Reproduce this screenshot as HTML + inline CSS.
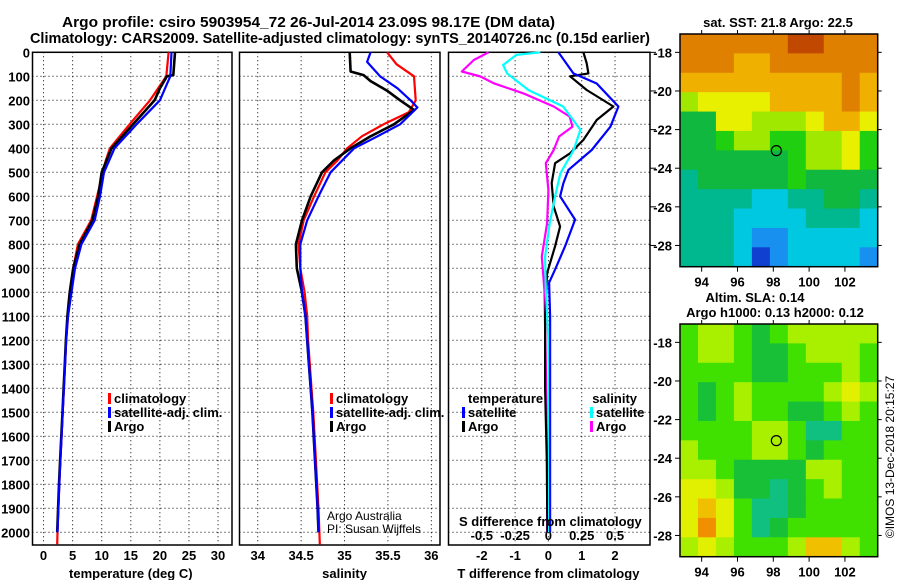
<!DOCTYPE html>
<html><head><meta charset="utf-8">
<style>
html,body{margin:0;padding:0;background:#fff;}
svg{display:block;font-family:"Liberation Sans",Arial,sans-serif;}
.b{font-weight:bold;font-size:13px;}
.t{font-weight:bold;font-size:15px;}
</style></head>
<body>
<svg id="chart" width="900" height="580" viewBox="0 0 900 580" xmlns="http://www.w3.org/2000/svg">
<text class="t" x="62" y="27" textLength="493" lengthAdjust="spacingAndGlyphs">Argo profile: csiro 5903954_72 26-Jul-2014 23.09S 98.17E (DM data)</text>
<text class="t" x="30" y="43" textLength="620" lengthAdjust="spacingAndGlyphs">Climatology: CARS2009. Satellite-adjusted climatology: synTS_20140726.nc (0.15d earlier)</text>
<g id="g"></g>
</svg>
<script>
// depth axis
const depthTicks=[0,100,200,300,400,500,600,700,800,900,1000,1100,1200,1300,1400,1500,1600,1700,1800,1900,2000];
// temperature panel
const tempTicks=[0,5,10,15,20,25,30];
const tClimD=[0,100,200,300,400,450,500,600,700,800,900,1000,1100,1200,1300,1400,1500,1600,1700,1800,1900,2000,2050];
const tClimV=[21.5,21.1,18.3,14.8,11.4,10.7,10.2,9.2,8.2,5.9,5.1,4.6,4.2,3.9,3.7,3.5,3.3,3.1,2.9,2.7,2.55,2.4,2.35];
const tSatD=[0,100,200,300,400,500,600,700,800,900,1000,1100,1200,1300,1400,1500,1600,1700,1800,1900,2000];
const tSatV=[22,21.8,20,16,12.2,10.4,9.7,8.8,6.5,5.4,4.8,4.2,3.9,3.7,3.5,3.3,3.1,2.9,2.7,2.55,2.4];
const tArgoD=[0,95,100,150,200,300,400,500,600,700,800,900,1000,1100,1200,1300,1400,1500,1600,1700,1800,1900,2000];
const tArgoV=[22.6,22.3,21.2,20,19.1,15.4,11.7,10,9.4,8.4,6.2,5.1,4.5,4.1,3.85,3.65,3.45,3.25,3.05,2.85,2.65,2.5,2.35];
// salinity panel
const salTicks=[34,34.5,35,35.5,36];
const salTickLabels=["34","34.5","35","35.5","36"];
const sClimD=[0,50,100,200,250,300,350,400,450,500,600,700,800,900,1000,1100,1200,1300,1400,1500,1600,1700,1800,1900,2000,2050];
const sClimV=[35.49,35.6,35.8,35.82,35.74,35.45,35.2,35.03,34.92,34.78,34.65,34.53,34.47,34.49,34.54,34.57,34.58,34.6,34.62,34.64,34.655,34.67,34.685,34.7,34.71,34.715];
const sSatD=[0,40,100,150,200,230,300,350,400,500,600,700,800,900,1000,1100,1200,1300,1400,1500,1600,1700,1800,1900,2000];
const sSatV=[35.3,35.26,35.41,35.61,35.76,35.84,35.64,35.38,35.11,34.84,34.7,34.57,34.49,34.49,34.51,34.55,34.57,34.59,34.61,34.63,34.645,34.66,34.675,34.69,34.7];
const sArgoD=[0,80,95,120,160,200,240,300,350,400,450,500,600,700,800,900,1000,1100,1200,1300,1400,1500,1600,1700,1800,1900,2000];
const sArgoV=[35.06,35.07,35.22,35.3,35.49,35.64,35.8,35.57,35.3,35.07,34.88,34.74,34.61,34.51,34.44,34.45,34.51,34.55,34.57,34.59,34.61,34.63,34.645,34.66,34.675,34.69,34.7];
// difference panel
const tdTicks=[-2,-1,0,1,2];
const sdTicks=[-0.5,-0.25,0,0.25,0.5];
const sdTickLabels=["-0.5","-0.25","0","0.25","0.5"];
const dTSatD=[0,88,130,226,310,407,490,545,600,697,808,905,960,1100,1500,2000];
const dTSatV=[0.3,0.75,1.45,2.1,1.86,1.3,0.6,0.45,0.35,0.8,0.5,0.2,0.02,0.05,0.05,0.05];
const dTArgoD=[0,46,88,100,157,226,282,365,421,462,545,643,726,808,920,1100,1400,1700,2000];
const dTArgoV=[1.05,1.15,1.2,0.65,1.15,1.95,1.45,1.05,0.65,0.2,0.1,0.16,0.35,0.2,-0.04,-0.1,-0.1,-0.05,-0.03];
const dSSatD=[0,11,53,88,157,226,323,407,504,600,712,851,990,1200,1600,2000];
const dSSatV=[-0.06,-0.24,-0.34,-0.31,-0.15,0.11,0.24,0.19,0.09,0.05,0.01,-0.025,-0.02,0,0.005,0.005];
const dSArgoD=[0,32,80,101,129,171,226,268,310,351,407,462,574,712,851,990,1300,1700,2000];
const dSArgoV=[-0.45,-0.56,-0.65,-0.51,-0.41,-0.19,0.04,0.16,0.18,0.08,0.04,-0.02,0,-0.01,-0.05,-0.03,-0.02,-0.01,-0.01];
// maps
const lonTicks=[94,96,98,100,102];
const latTicks=[-18,-20,-22,-24,-26,-28];
const sstGrid=[
[9,9,9,9,9,9,10,10,9,9,9],
[9,9,9,8,8,9,9,9,9,9,9],
[8,8,8,8,8,8,8,8,8,9,8],
[6,7,7,7,7,8,8,8,8,9,8],
[4,4,7,7,6,6,6,7,8,8,7],
[4,4,5,6,6,5,5,6,6,7,5],
[4,4,4,4,4,4,5,6,6,7,5],
[3,4,4,4,4,4,5,4,4,4,4],
[3,3,3,3,2,2,3,3,4,4,3],
[3,3,3,2,2,2,2,3,3,3,2],
[3,3,3,2,1,1,2,2,2,2,2],
[3,3,3,2,0,1,2,2,2,2,1]];
const slaGrid=[
[5,6,6,5,4,5,6,6,6,6,6],
[5,6,6,5,4,4,5,6,6,6,5],
[5,5,5,5,4,4,5,5,5,6,5],
[5,4,5,6,5,5,5,5,6,7,6],
[5,4,5,6,5,5,4,4,5,6,5],
[5,5,5,5,6,6,5,3,3,5,5],
[6,5,5,5,6,6,5,4,5,5,5],
[6,6,5,4,4,4,4,6,6,5,5],
[7,7,6,4,4,3,4,5,6,5,5],
[7,8,7,5,3,3,4,5,5,5,5],
[7,9,7,5,3,4,5,5,5,5,5],
[6,7,6,5,5,5,6,8,8,6,5]];
const argoLon=98.17, argoLat=-23.09;

const NS='http://www.w3.org/2000/svg';
const G=document.getElementById('g');
function el(tag,attrs,parent,txt){const e=document.createElementNS(NS,tag);for(const k in attrs)e.setAttribute(k,attrs[k]);if(txt!==undefined)e.textContent=txt;(parent||G).appendChild(e);return e;}

const Y0=52.3,Y1=545,DMAX=2053;
const yD=d=>Y0+(d/DMAX)*(Y1-Y0);
const P1={l:32.5,r:232,min:-1.9,max:32.4};
const P2={l:239.5,r:440,min:33.79,max:36.1};
const P3={l:448.5,r:650,min:-3,max:3.05};
const xs=(P,v)=>P.l+(v-P.min)/(P.max-P.min)*(P.r-P.l);
const xT=v=>xs(P1,v), xS=v=>xs(P2,v), xTD=v=>xs(P3,v), xSD=v=>xs(P3,v*4);

function panel(P,name,vticks,vfun){
  const g=el('g',{});
  
  
  depthTicks.forEach(d=>{const l=el('line',{x1:P.l,x2:P.r,y1:yD(d),y2:yD(d),stroke:'#000','stroke-width':1,'stroke-dasharray':'1,3'},g);
    });
  vticks.forEach(v=>{const l=el('line',{x1:vfun(v),x2:vfun(v),y1:Y0,y2:Y1,stroke:'#000','stroke-width':1,'stroke-dasharray':'1,3'},g);
    });
  const r=el('rect',{x:P.l,y:Y0,width:P.r-P.l,height:Y1-Y0,fill:'none',stroke:'#000','stroke-width':1.5},g);
  
  return g;
}
function line(D,V,xf,color,name,w){
  const pts=D.map((d,i)=>xf(V[i]).toFixed(1)+','+yD(d).toFixed(1)).join(' ');
  const p=el('polyline',{points:pts,fill:'none',stroke:color,'stroke-width':w||2.2,'stroke-linejoin':'round'});
  
  
}
panel(P1,'temperature-panel',tempTicks,xT);
panel(P2,'salinity-panel',salTicks,xS);
panel(P3,'difference-panel',tdTicks,xTD);

depthTicks.forEach(d=>{const t=el('text',{x:30,y:yD(d)+5,'text-anchor':'end',class:'b'},G,String(d));
  });
tempTicks.forEach(v=>{const t=el('text',{x:xT(v),y:560,'text-anchor':'middle',class:'b'},G,String(v));
  });
salTicks.forEach((v,i)=>{const t=el('text',{x:xS(v),y:560,'text-anchor':'middle',class:'b'},G,salTickLabels[i]);
  });
tdTicks.forEach(v=>{const t=el('text',{x:xTD(v),y:560,'text-anchor':'middle',class:'b'},G,String(v));
  });
sdTicks.forEach((v,i)=>{const t=el('text',{x:xSD(v),y:540,'text-anchor':'middle',class:'b'},G,sdTickLabels[i]);
  });

line(tClimD,tClimV,xT,'#ff0000','temp-climatology-line');
line(tArgoD,tArgoV,xT,'#000000','temp-argo-line',2.6);
line(tSatD,tSatV,xT,'#0000ff','temp-satellite-line');
line(sClimD,sClimV,xS,'#ff0000','sal-climatology-line');
line(sArgoD,sArgoV,xS,'#000000','sal-argo-line',2.6);
line(sSatD,sSatV,xS,'#0000ff','sal-satellite-line');
line(dSArgoD,dSArgoV,xSD,'#ff00ff','s-diff-argo-line');
line(dTArgoD,dTArgoV,xTD,'#000000','t-diff-argo-line');
line(dSSatD,dSSatV,xSD,'#00ffff','s-diff-satellite-line');
line(dTSatD,dTSatV,xTD,'#0000ff','t-diff-satellite-line');

function leg(x,y,color,label,name,anchor){
  const g=el('g',{});
  
  
  if(color) el('rect',{x:x-6,y:y-10,width:3,height:11,fill:color},g);
  el('text',{x:x,y:y,class:'b','text-anchor':anchor||'start'},g,label);
}
leg(114,403,'#ff0000','climatology','legend-temp-climatology');
leg(114,417,'#0000ff','satellite-adj. clim.','legend-temp-satellite');
leg(114,431,'#000000','Argo','legend-temp-argo');
leg(336,403,'#ff0000','climatology','legend-sal-climatology');
leg(336,417,'#0000ff','satellite-adj. clim.','legend-sal-satellite');
leg(336,431,'#000000','Argo','legend-sal-argo');
leg(468,403,null,'temperature','legend-temperature-heading');
leg(468,417,'#0000ff','satellite','legend-tdiff-satellite');
leg(468,431,'#000000','Argo','legend-tdiff-argo');
leg(637,403,null,'salinity','legend-salinity-heading','end');
leg(596,417,'#00ffff','satellite','legend-sdiff-satellite');
leg(596,431,'#ff00ff','Argo','legend-sdiff-argo');

let t;
t=el('text',{x:327,y:520,'font-size':12},G,'Argo Australia');
t=el('text',{x:327,y:533,'font-size':12},G,'PI: Susan Wijffels');
t=el('text',{x:459,y:526,class:'b'},G,'S difference from climatology');
t=el('text',{x:xT(15),y:578,'text-anchor':'middle',class:'b'},G,'temperature (deg C)');
t=el('text',{x:xS(35),y:578,'text-anchor':'middle',class:'b'},G,'salinity');
t=el('text',{x:xTD(0),y:578,'text-anchor':'middle',class:'b'},G,'T difference from climatology');

const sstColors=['#1040d0','#1890f0','#00c8e0','#00b890','#10b840','#20d010','#a0e800','#e8f000','#f0b000','#e08000','#c04800'];
const slaColors=['#1040d0','#1890f0','#00c8e0','#10c080','#18c038','#40e000','#a8f000','#e0f000','#f0c000','#f09000'];
const ML=680,MR=877.7,LON0=92.79,LON1=103.83,LAT0=-17.05,LAT1=-29.1;
const xLon=v=>ML+(v-LON0)/(LON1-LON0)*(MR-ML);
function map(top,bottom,grid,colors,name){
  const yLat=v=>top+(v-LAT0)/(LAT1-LAT0)*(bottom-top);
  const g=el('g',{});
  
  
  const rows=grid.length,cols=grid[0].length;
  grid.forEach((row,j)=>row.forEach((v,i)=>{
    const lo=LON0+i*(LON1-LON0)/cols, la=LAT0+j*(LAT1-LAT0)/rows;
    const lo2=LON0+(i+1)*(LON1-LON0)/cols, la2=LAT0+(j+1)*(LAT1-LAT0)/rows;
    const c=el('rect',{x:xLon(lo),y:yLat(la),width:xLon(lo2)-xLon(lo)+0.5,height:yLat(la2)-yLat(la)+0.5,fill:colors[v]},g);
    
    
  }));
  el('rect',{x:ML,y:top,width:MR-ML,height:bottom-top,fill:'none',stroke:'#000','stroke-width':1.5},g);
  lonTicks.forEach(v=>{
    el('line',{x1:xLon(v),x2:xLon(v),y1:bottom,y2:bottom+5,stroke:'#000'},g);
    el('line',{x1:xLon(v),x2:xLon(v),y1:top,y2:top-4,stroke:'#000'},g);
    const t=el('text',{x:xLon(v),y:bottom+20,'text-anchor':'middle',class:'b'},g,String(v));
    
  });
  latTicks.forEach(v=>{
    el('line',{x1:ML-5,x2:ML,y1:yLat(v),y2:yLat(v),stroke:'#000'},g);
    el('line',{x1:MR,x2:MR+4,y1:yLat(v),y2:yLat(v),stroke:'#000'},g);
    const t=el('text',{x:ML-8,y:yLat(v)+5,'text-anchor':'end',class:'b'},g,String(v));
    
  });
  const c=el('circle',{cx:xLon(argoLon),cy:yLat(argoLat),r:5,fill:'none',stroke:'#000','stroke-width':1.2},g);
  
  return yLat;
}
const yTop=map(34,266.7,sstGrid,sstColors,'sst-map');
map(324,556.7,slaGrid,slaColors,'sla-map');
latTicks.forEach(v=>{el('line',{x1:650,x2:656,y1:yTop(v),y2:yTop(v),stroke:'#000'});});

t=el('text',{x:778,y:27,'text-anchor':'middle',class:'b'},G,'sat. SST: 21.8 Argo: 22.5');
t=el('text',{x:755,y:302,'text-anchor':'middle',class:'b'},G,'Altim. SLA: 0.14');
t=el('text',{x:775,y:317,'text-anchor':'middle',class:'b'},G,'Argo h1000: 0.13 h2000: 0.12');
t=el('text',{x:0,y:0,'text-anchor':'middle','font-size':12,transform:'translate(894,457) rotate(-90)'},G,'©IMOS 13-Dec-2018 20:15:27');
</script>
</body></html>
